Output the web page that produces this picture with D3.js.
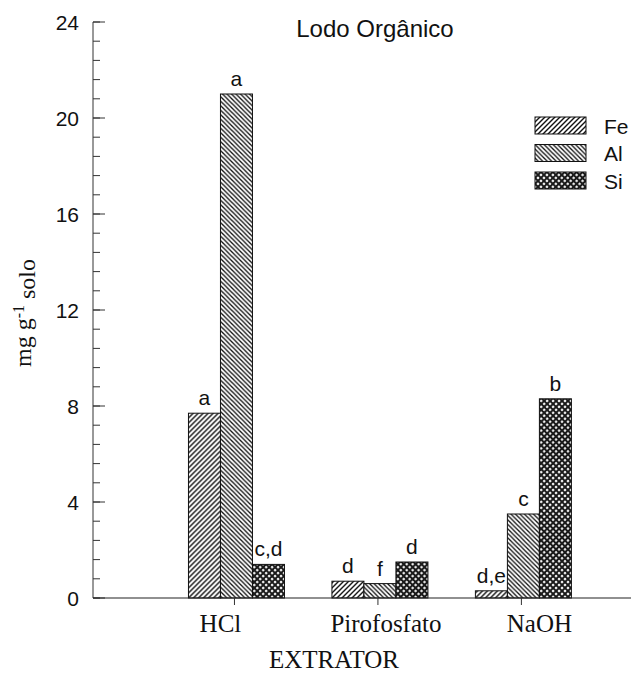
<!DOCTYPE html>
<html>
<head>
<meta charset="utf-8">
<script src="https://cdn.jsdelivr.net/npm/d3@7"></script>
<style>
  body { margin: 0; background: #fff; }
  svg { display: block; }
</style>
</head>
<body>
<div id="chart"></div>
<script>
// data
var extractors = ["HCl", "Pirofosfato", "NaOH"];
var elements = ["Fe", "Al", "Si"];
var feValues = [7.7, 0.7, 0.3];
var alValues = [21.0, 0.6, 3.5];
var siValues = [1.4, 1.5, 8.3];
var feLetters = ["a", "d", "d,e"];
var alLetters = ["a", "f", "c"];
var siLetters = ["c,d", "d", "b"];
var yTicks = [0, 4, 8, 12, 16, 20, 24];

var width = 632, height = 673;
var sans = "'Liberation Sans', Arial, sans-serif";
var serif = "'Liberation Serif', 'Times New Roman', serif";

var svg = d3.select("#chart").append("svg")
  .attr("width", width)
  .attr("height", height);

// hatch patterns
var defs = svg.append("defs");

var pFe = defs.append("pattern")
  .attr("id", "pat-Fe")
  .attr("patternUnits", "userSpaceOnUse")
  .attr("width", 5).attr("height", 5);
pFe.append("rect").attr("width", 5).attr("height", 5).attr("fill", "#fff");
pFe.append("path")
  .attr("d", "M-1,1 L1,-1 M0,5 L5,0 M4,6 L6,4")
  .attr("stroke", "#111").attr("stroke-width", 1.4);

var pAl = defs.append("pattern")
  .attr("id", "pat-Al")
  .attr("patternUnits", "userSpaceOnUse")
  .attr("width", 4.5).attr("height", 4.5);
pAl.append("rect").attr("width", 4.5).attr("height", 4.5).attr("fill", "#fff");
pAl.append("path")
  .attr("d", "M-1,3.5 L1,5.5 M0,0 L4.5,4.5 M3.5,-1 L5.5,1")
  .attr("stroke", "#111").attr("stroke-width", 1.3);

var pSi = defs.append("pattern")
  .attr("id", "pat-Si")
  .attr("patternUnits", "userSpaceOnUse")
  .attr("patternTransform", "rotate(45)")
  .attr("width", 4.2).attr("height", 4.2);
pSi.append("rect").attr("width", 4.2).attr("height", 4.2).attr("fill", "#1a1a1a");
pSi.append("circle").attr("cx", 2.1).attr("cy", 2.1).attr("r", 1.2).attr("fill", "#fff");

// scales
var x = d3.scaleLinear().domain([0, 3.75]).range([93, 631]);
var y = d3.scaleLinear().domain([0, 24]).range([598, 22]);
var xSub = d3.scaleBand().domain(elements).range([-48, 48]);

var rows = extractors.map(function (name, i) {
  return {
    name: name,
    pos: i + 1,
    bars: [
      { el: "Fe", value: feValues[i], letter: feLetters[i] },
      { el: "Al", value: alValues[i], letter: alLetters[i] },
      { el: "Si", value: siValues[i], letter: siLetters[i] }
    ]
  };
});

// bars
var groups = svg.selectAll(".grp")
  .data(rows)
  .enter()
  .append("g")
  .attr("class", "grp")
  .attr("transform", function (d) { return "translate(" + x(d.pos) + ",0)"; });

groups.selectAll("rect")
  .data(function (d) { return d.bars; })
  .enter()
  .append("rect")
  .attr("x", function (d) { return xSub(d.el); })
  .attr("width", xSub.bandwidth())
  .attr("y", function (d) { return y(d.value); })
  .attr("height", function (d) { return y(0) - y(d.value); })
  .attr("fill", function (d) { return "url(#pat-" + d.el + ")"; })
  .attr("stroke", "#111")
  .attr("stroke-width", 1);

groups.selectAll("text")
  .data(function (d) { return d.bars; })
  .enter()
  .append("text")
  .attr("x", function (d) { return xSub(d.el) + xSub.bandwidth() / 2; })
  .attr("y", function (d) { return y(d.value) - 8; })
  .attr("text-anchor", "middle")
  .style("font-family", sans)
  .style("font-size", "21px")
  .attr("fill", "#111")
  .text(function (d) { return d.letter; });

// y axis with inward ticks
var minorTicks = d3.range(0, 24.01, 0.8);
var yAxisG = svg.append("g");
yAxisG.append("line")
  .attr("x1", x(0)).attr("x2", x(0))
  .attr("y1", y(0)).attr("y2", y(24))
  .attr("stroke", "#333").attr("stroke-width", 1);
yAxisG.selectAll(".minor")
  .data(minorTicks)
  .enter()
  .append("line")
  .attr("x1", x(0)).attr("x2", x(0) + 7)
  .attr("y1", function (d) { return y(d); })
  .attr("y2", function (d) { return y(d); })
  .attr("stroke", "#333").attr("stroke-width", 1);
yAxisG.selectAll(".major")
  .data(yTicks)
  .enter()
  .append("line")
  .attr("x1", x(0)).attr("x2", x(0) + 12)
  .attr("y1", function (d) { return y(d); })
  .attr("y2", function (d) { return y(d); })
  .attr("stroke", "#333").attr("stroke-width", 1);
yAxisG.selectAll("text")
  .data(yTicks)
  .enter()
  .append("text")
  .attr("x", 79)
  .attr("y", function (d) { return y(d); })
  .attr("dy", "0.36em")
  .attr("text-anchor", "end")
  .style("font-family", sans)
  .style("font-size", "21px")
  .attr("fill", "#111")
  .text(function (d) { return d; });

// x axis
var xAxisG = svg.append("g");
xAxisG.append("line")
  .attr("x1", x(0)).attr("x2", x(3.75))
  .attr("y1", y(0)).attr("y2", y(0))
  .attr("stroke", "#222").attr("stroke-width", 1.2);
xAxisG.selectAll(".xt")
  .data(rows)
  .enter()
  .append("line")
  .attr("x1", function (d) { return x(d.pos) - 2; })
  .attr("x2", function (d) { return x(d.pos) - 2; })
  .attr("y1", y(0)).attr("y2", y(0) + 7)
  .attr("stroke", "#333").attr("stroke-width", 1);

var labelShift = [-16, 6, 16];
xAxisG.selectAll("text")
  .data(rows)
  .enter()
  .append("text")
  .attr("x", function (d, i) { return x(d.pos) + labelShift[i]; })
  .attr("y", 632)
  .attr("text-anchor", "middle")
  .style("font-family", serif)
  .style("font-size", "25px")
  .attr("fill", "#111")
  .text(function (d) { return d.name; });

svg.append("text")
  .attr("x", 334)
  .attr("y", 668)
  .attr("text-anchor", "middle")
  .style("font-family", serif)
  .style("font-size", "25px")
  .attr("fill", "#111")
  .text("EXTRATOR");

// y label
var yl = svg.append("text")
  .attr("transform", "translate(31,313) rotate(-90)")
  .attr("text-anchor", "middle")
  .style("font-family", serif)
  .style("font-size", "24px")
  .attr("fill", "#111");
yl.append("tspan").text("mg g");
yl.append("tspan").attr("dy", "-0.45em").style("font-size", "16px").text("-1");
yl.append("tspan").attr("dy", "0.45em").text(" solo");

// title
svg.append("text")
  .attr("x", 375)
  .attr("y", 37)
  .attr("text-anchor", "middle")
  .style("font-family", sans)
  .style("font-size", "24px")
  .attr("fill", "#111")
  .text("Lodo Orgânico");

// legend
var legend = svg.append("g").attr("transform", "translate(535,117)");
var li = legend.selectAll("g")
  .data(elements)
  .enter()
  .append("g")
  .attr("transform", function (d, i) { return "translate(0," + i * 27.5 + ")"; });
li.append("rect")
  .attr("width", 51).attr("height", 17)
  .attr("fill", function (d) { return "url(#pat-" + d + ")"; })
  .attr("stroke", "#111").attr("stroke-width", 1);
li.append("text")
  .attr("x", 69).attr("y", 9)
  .attr("dy", "0.36em")
  .style("font-family", sans)
  .style("font-size", "21px")
  .attr("fill", "#111")
  .text(function (d) { return d; });
</script>
</body>
</html>
